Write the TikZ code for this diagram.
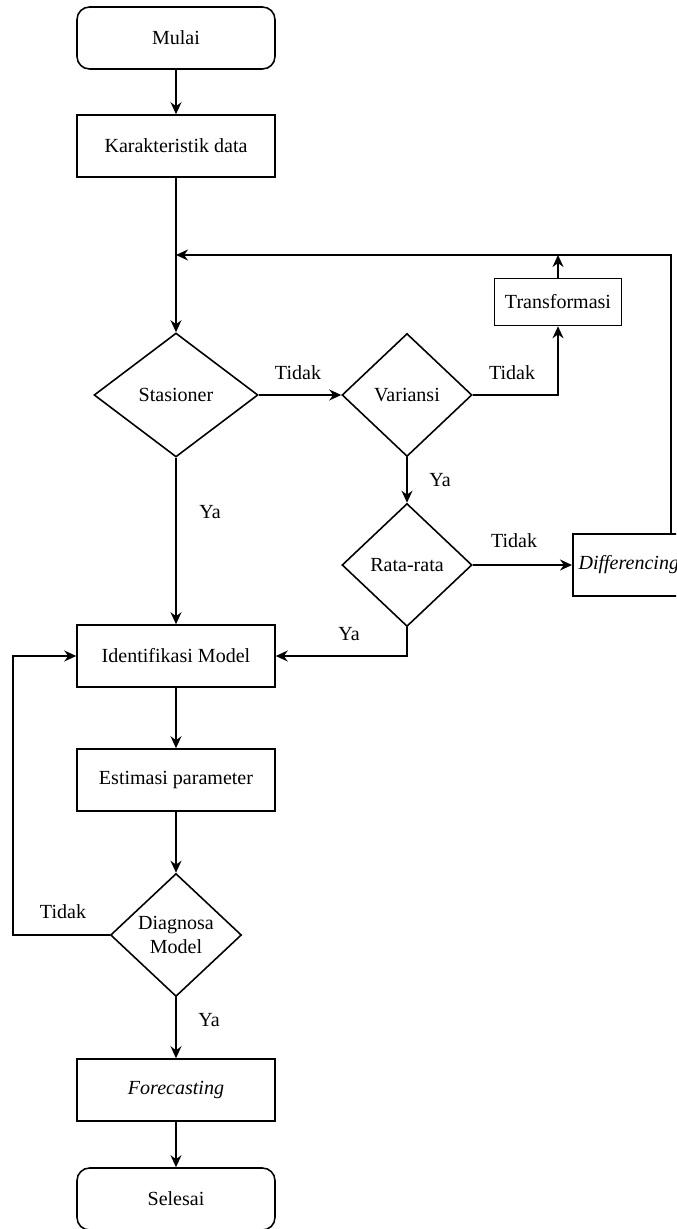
\documentclass[tikz,border=0pt]{standalone}
\usepackage{fontspec}
\setmainfont{Liberation Serif}
\usetikzlibrary{shapes.geometric,arrows.meta}

\tikzset{
  proses/.style={draw, line width=0.9pt, minimum width=3.96cm, minimum height=1.24cm, inner sep=2pt},
  terminal/.style={proses, rounded corners=0.25cm},
  keputusan/.style={draw, line width=0.9pt, diamond, inner sep=0pt, align=center},
  garis/.style={line width=0.9pt, -{Stealth[length=2.4mm,width=2.2mm]}},
  ket/.style={inner sep=0pt}
}

\begin{document}
\begin{tikzpicture}[x=0.02cm, y=-0.02cm, font=\fontsize{11.4}{12.5}\selectfont]
  \useasboundingbox (0,0) rectangle (676,1229);
  \clip (0,0) rectangle (676,1229);
  % kotak utama
  \node[terminal] (mulai) at (176,38) {Mulai};
  \node[proses] (karakter) at (176,146) {Karakteristik data};
  \node[keputusan, minimum width=3.28cm, minimum height=2.48cm] (stasioner) at (176,395) {Stasioner};
  \node[keputusan, minimum width=2.6cm, minimum height=2.46cm] (variansi) at (407,395) {Variansi};
  \node[proses, minimum width=2.54cm, minimum height=0.94cm] (transformasi) at (558,302) {Transformasi};
  \node[keputusan, minimum width=2.6cm, minimum height=2.46cm] (ratarata) at (407,565) {Rata-rata};
  \node[proses, minimum width=2.24cm, anchor=west] (diff) at (572,565) {\textit{Differencing}};
  \node[proses] (identifikasi) at (176,656) {Identifikasi Model};
  \node[proses] (estimasi) at (176,780) {Estimasi parameter};
  \node[keputusan, minimum width=2.62cm, minimum height=2.46cm] (diagnosa) at (176,935) {Diagnosa\\[1pt]Model};
  \node[proses] (forecast) at (176,1090) {\textit{Forecasting}};
  \node[terminal] (selesai) at (176,1199) {Selesai};

  % titik bantu
  \coordinate (j1) at (176,255);
  \coordinate (loopr) at (671,255);
  \coordinate (loopl) at (13,935);

  % penghubung
  \draw[garis] (mulai) -- (karakter);
  \draw[garis] (karakter) -- (stasioner);
  \draw[garis] (diff.north -| loopr) -- (loopr) -- (j1);
  \draw[garis] (transformasi.north) -- (transformasi.north |- loopr);
  \draw[garis] (stasioner.east) -- (variansi.west);
  \draw[garis] (variansi.east) -| (transformasi.south);
  \draw[garis] (variansi.south) -- (ratarata.north);
  \draw[garis] (ratarata.east) -- (diff.west);
  \draw[garis] (ratarata.south) |- (identifikasi.east);
  \draw[garis] (stasioner.south) -- (identifikasi.north);
  \draw[garis] (identifikasi) -- (estimasi);
  \draw[garis] (estimasi) -- (diagnosa);
  \draw[garis] (diagnosa.west) -- (loopl) |- (identifikasi.west);
  \draw[garis] (diagnosa) -- (forecast);
  \draw[garis] (forecast) -- (selesai);

  % label
  \node[ket] (t1) at (298,373) {Tidak};
  \node[ket] (t2) at (512,373) {Tidak};
  \node[ket] (y1) at (440,480) {Ya};
  \node[ket] (t3) at (514,541) {Tidak};
  \node[ket] (y2) at (349,634) {Ya};
  \node[ket] (y3) at (210,512) {Ya};
  \node[ket] (t4) at (63,912) {Tidak};
  \node[ket] (y4) at (209,1020) {Ya};
\end{tikzpicture}
\end{document}
